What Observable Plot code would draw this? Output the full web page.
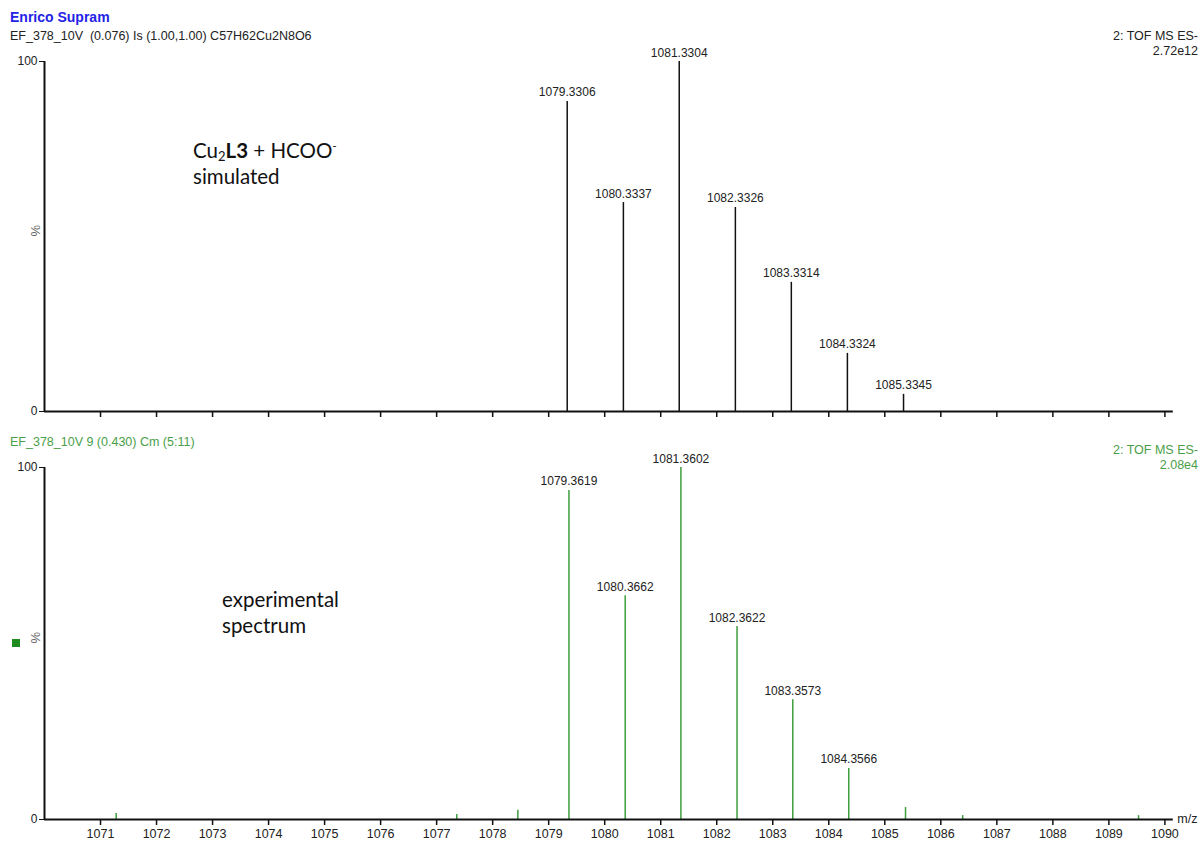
<!DOCTYPE html>
<html>
<head>
<meta charset="utf-8">
<script src="https://cdn.jsdelivr.net/npm/d3@7"></script>
<script src="https://cdn.jsdelivr.net/npm/@observablehq/plot@0.6"></script>
<style>
  html, body { margin: 0; padding: 0; background: #fff; }
  #wrap { position: relative; width: 1204px; height: 843px; overflow: hidden; font-family: "Liberation Sans", Arial, sans-serif; }
  .abs { position: absolute; white-space: nowrap; }
  .plot { position: absolute; left: 0; }
  .anno { font-family: Lato, "Open Sans", sans-serif; font-size: 20.5px; color: #111; line-height: 26px; }
  .anno sub, .anno sup { line-height: 0; }
</style>
</head>
<body>
<div id="wrap">
  <div class="abs" style="left:10px;top:9px;font-size:14px;font-weight:bold;color:#2323e6;">Enrico Supram</div>
  <div class="abs" style="left:10px;top:29px;font-size:12.5px;color:#222;">EF_378_10V&nbsp; (0.076) Is (1.00,1.00) C57H62Cu2N8O6</div>
  <div class="abs" style="right:6px;top:29px;font-size:12.5px;color:#222;text-align:right;line-height:15px;">2: TOF MS ES-<br>2.72e12</div>
  <div class="abs" style="left:10px;top:435px;font-size:12.5px;color:#4a9e4a;">EF_378_10V 9 (0.430) Cm (5:11)</div>
  <div class="abs" style="right:6px;top:443px;font-size:12.5px;color:#4a9e4a;text-align:right;line-height:15px;">2: TOF MS ES-<br>2.08e4</div>
  <div class="abs" style="left:12px;top:639px;width:8px;height:8px;background:#1e8c1e;"></div>
  <div id="top" class="plot" style="top:50px;"></div>
  <div id="bot" class="plot" style="top:455px;"></div>
  <div class="abs anno" style="left:193px;top:137px;">Cu<sub style="font-size:13px;vertical-align:-3px;">2</sub><b>L3</b> + HCOO<sup style="font-size:12px;vertical-align:8px;">-</sup><br>simulated</div>
  <div class="abs anno" style="left:222px;top:586px;">experimental<br>spectrum</div>
</div>
<script>
// ---- Data ----
const simMz = [1079.3306, 1080.3337, 1081.3304, 1082.3326, 1083.3314, 1084.3324, 1085.3345];
const simInt = [88.6, 59.7, 100, 58.3, 36.9, 16.6, 4.9];
const simLabels = ["1079.3306", "1080.3337", "1081.3304", "1082.3326", "1083.3314", "1084.3324", "1085.3345"];

const expMz = [1071.28, 1077.36, 1078.45, 1079.3619, 1080.3662, 1081.3602, 1082.3622, 1083.3573, 1084.3566, 1085.37, 1086.39, 1089.53];
const expInt = [1.7, 1.4, 2.6, 93.5, 63.6, 100, 54.8, 34.0, 14.5, 3.4, 1.1, 1.1];
const expLabels = ["", "", "", "1079.3619", "1080.3662", "1081.3602", "1082.3622", "1083.3573", "1084.3566", "", "", ""];

const xTicks = [1071, 1072, 1073, 1074, 1075, 1076, 1077, 1078, 1079, 1080, 1081, 1082, 1083, 1084, 1085, 1086, 1087, 1088, 1089, 1090];
const yTicks = [0, 100];
const xDomain = [1070, 1090.1];

const sim = simMz.map((m, i) => ({mz: m, inten: simInt[i], label: simLabels[i]}));
const exp = expMz.map((m, i) => ({mz: m, inten: expInt[i], label: expLabels[i]}));

function panel(data, color, height, marginTop, marginBottom, showLabels) {
  return Plot.plot({
    width: 1204,
    height,
    marginLeft: 44,
    marginRight: 34,
    marginTop,
    marginBottom,
    style: {fontFamily: "'Liberation Sans', Arial, sans-serif", fontSize: "12px", color: "#222", background: "transparent", overflow: "visible"},
    x: {domain: xDomain},
    y: {domain: [0, 100]},
    marks: [
      Plot.ruleX(data, {x: "mz", y1: 0, y2: "inten", stroke: color, strokeWidth: 1.5}),
      Plot.text(data.filter(d => d.label), {x: "mz", y: "inten", text: "label", dy: -5, lineAnchor: "bottom", fontSize: 12, fill: "#222"}),
      Plot.ruleY([0], {x1: 1070, x2: 1090.15, stroke: "#111", strokeWidth: 2}),
      Plot.ruleX([1070], {y1: 0, y2: 100, stroke: "#111", strokeWidth: 2}),
      Plot.axisX({ticks: xTicks, tickSize: 6, tickFormat: showLabels ? d => String(d) : () => "", tickPadding: 4, fontSize: 12.5, label: null, stroke: "#111", strokeWidth: 1.5}),
      Plot.axisY({ticks: yTicks, tickSize: 5, tickPadding: 2, fontSize: 12, label: null, stroke: "#111"}),
      Plot.text(["%"], {frameAnchor: "left", y: 50, dx: -9, rotate: -90, fontSize: 13, fill: "#666"}),
      showLabels ? Plot.text(["m/z"], {frameAnchor: "right", y: 0, dx: 27, dy: -1, fontSize: 12.5, fill: "#222"}) : null
    ]
  });
}

document.getElementById("top").appendChild(panel(sim, "#111", 380, 11, 19, false));
document.getElementById("bot").appendChild(panel(exp, "#3d9e3d", 388, 12, 24, true));
</script>
</body>
</html>
